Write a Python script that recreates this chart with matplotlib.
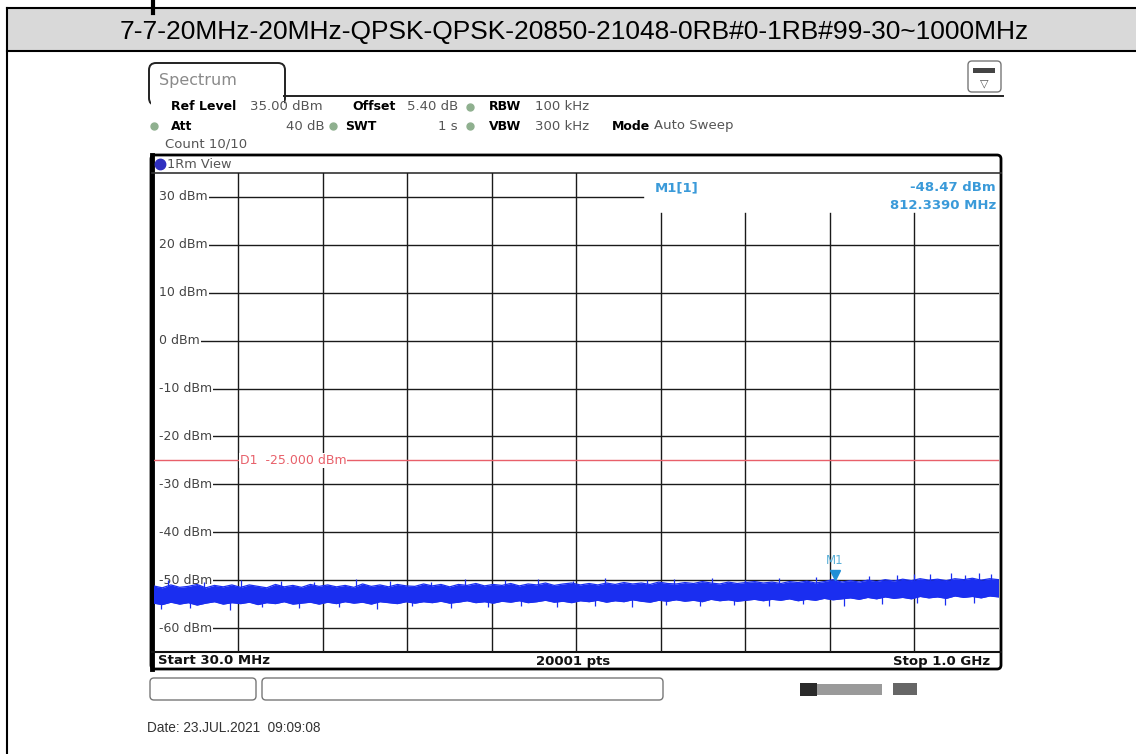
import numpy as np
import matplotlib.pyplot as plt
from matplotlib.patches import FancyBboxPatch, Rectangle

# chart data
title = "7-7-20MHz-20MHz-QPSK-QPSK-20850-21048-0RB#0-1RB#99-30~1000MHz"
f_start, f_stop = 30.0, 1000.0          # MHz
ref_level, y_bottom = 35.0, -65.0       # dBm
level_ticks = [30, 20, 10, 0, -10, -20, -30, -40, -50, -60]
limit_d1 = -25.0
marker_freq, marker_level = 812.339, -48.47

# noise floor: core band of the trace, every 10 MHz
trace_freq = np.arange(30, 1001, 10)
trace_top = [
    -51.2, -51.6, -51.0, -51.5, -51.3, -50.9, -51.6, -51.1, -51.4, -51.0,
    -51.5, -51.0, -51.3, -51.6, -50.9, -51.4, -51.1, -51.5, -50.9, -51.3,
    -51.0, -51.4, -51.1, -51.5, -50.8, -51.3, -51.0, -51.4, -50.9, -51.2,
    -51.3, -50.8, -51.2, -50.9, -51.4, -50.9, -51.1, -50.7, -51.2, -50.9,
    -51.1, -50.7, -51.2, -50.8, -51.0, -50.6, -51.1, -50.8, -50.6, -51.0,
    -50.7, -51.0, -50.6, -50.9, -50.5, -50.8, -50.6, -50.9, -50.4, -50.7,
    -50.8, -50.5, -50.7, -50.3, -50.6, -50.8, -50.4, -50.7, -50.5, -50.3,
    -50.6, -50.4, -50.7, -50.3, -50.5, -50.2, -50.6, -50.3, -49.9, -50.4,
    -50.1, -50.4, -50.0, -50.3, -49.9, -50.2, -49.8, -50.1, -49.7, -50.0,
    -49.8, -50.1, -49.7, -49.9, -49.6, -50.0, -49.7, -49.9]
trace_bottom = [
    -54.8, -55.1, -54.6, -55.0, -54.7, -55.2, -54.8, -54.5, -55.0, -54.7,
    -54.9, -54.6, -55.1, -54.7, -54.9, -54.5, -55.0, -54.8, -54.6, -55.0,
    -54.6, -54.9, -54.5, -54.8, -54.6, -55.0, -54.5, -54.7, -54.9, -54.5,
    -54.8, -54.5, -54.7, -54.4, -54.8, -54.6, -54.3, -54.7, -54.5, -54.8,
    -54.4, -54.6, -54.3, -54.7, -54.5, -54.2, -54.6, -54.4, -54.7, -54.3,
    -54.5, -54.2, -54.6, -54.3, -54.5, -54.1, -54.4, -54.6, -54.2, -54.4,
    -54.1, -54.4, -54.2, -54.5, -54.0, -54.3, -54.1, -54.4, -54.2, -54.0,
    -54.3, -54.0, -54.2, -53.9, -54.3, -54.0, -54.2, -53.8, -54.1, -53.9,
    -53.7, -54.0, -53.6, -53.9, -53.5, -53.8, -53.6, -53.9, -53.4, -53.7,
    -53.5, -53.8, -53.3, -53.6, -53.4, -53.7, -53.3, -53.5]

# single noise spikes sticking out of the band
spike_up_freq = [47, 88, 131, 176, 214, 262, 301, 349, 388, 433, 471, 512, 548, 596,
                 628, 671, 709, 748, 790, 812, 851, 884, 903, 921, 946, 962, 978, 991]
spike_up_level = [-50.0, -50.3, -49.9, -50.2, -50.4, -49.8, -50.1, -50.3, -49.7, -50.0,
                  -49.8, -50.2, -49.6, -49.9, -49.7, -49.5, -49.9, -49.6, -49.4, -48.5,
                  -49.2, -49.0, -48.7, -48.8, -48.6, -48.9, -48.5, -48.8]
spike_dn_freq = [39, 72, 118, 155, 197, 243, 286, 327, 371, 414, 452, 493,
                 537, 579, 618, 657, 696, 737, 776, 823, 866, 907, 939, 972]
spike_dn_level = [-56.0, -55.8, -56.2, -55.7, -55.9, -55.6, -56.0, -55.5, -55.8, -55.6,
                  -55.4, -55.7, -55.3, -55.6, -55.2, -55.5, -55.1, -55.4, -55.0, -55.3,
                  -54.9, -54.8, -55.1, -54.7]

W, H = 1136, 754
fig = plt.figure(figsize=(W / 100, H / 100), dpi=100)

# pixel-space background axes for the table and instrument frame
bg = fig.add_axes([0, 0, 1, 1])
bg.set_xlim(0, W)
bg.set_ylim(H, 0)
bg.axis('off')

# table cell with grey header
bg.add_patch(Rectangle((7, 8), W, 43, facecolor='#d9d9d9', edgecolor='none'))
bg.plot([7, W], [8, 8], color='black', lw=1.5)
bg.plot([7, W], [51, 51], color='black', lw=1.5)
bg.plot([7, 7], [8, H], color='black', lw=1.5)
bg.plot([153, 153], [0, 13], color='black', lw=3)
bg.text(574, 32, title, ha='center', va='center', fontsize=19,
        family='Liberation Sans', color='black')

# "Spectrum" tab and top line
bg.add_patch(FancyBboxPatch((149, 63), 136, 42, boxstyle='round,pad=0,rounding_size=7',
                            facecolor='white', edgecolor='#222', lw=1.4))
bg.add_patch(Rectangle((151, 97), 133, 10, facecolor='white', edgecolor='none'))
bg.plot([284, 1003], [95.5, 95.5], color='#222', lw=1.4)
bg.text(159, 80, "Spectrum", fontsize=11.5, color='#8a8a8a', va='center')

# settings icon
bg.add_patch(FancyBboxPatch((968, 61), 33, 31, boxstyle='round,pad=0,rounding_size=4',
                            facecolor='white', edgecolor='#777', lw=1))
bg.add_patch(Rectangle((973, 68), 22, 5, facecolor='#444', edgecolor='none'))
bg.text(984, 83, "\u25bd", fontsize=8, ha='center', va='center', color='#555')

# header parameters
bold = dict(fontsize=9, va='center', fontweight='bold', color='black')
val = dict(fontsize=9.5, va='center', color='#555')
dot = dict(marker='o', ms=5, color='#8fb08f', ls='none')
r1, r2, r3 = 107, 126, 144
bg.text(171, r1, "Ref Level", **bold)
bg.text(250, r1, "35.00 dBm", **val)
bg.text(352, r1, "Offset", **bold)
bg.text(407, r1, "5.40 dB", **val)
bg.plot([470], [r1], **dot)
bg.text(489, r1, "RBW", **bold)
bg.text(535, r1, "100 kHz", **val)
bg.plot([154], [r2], **dot)
bg.text(171, r2, "Att", **bold)
bg.text(325, r2, "40 dB", ha='right', fontsize=9.5, va='center', color='#555')
bg.plot([333], [r2], **dot)
bg.text(345, r2, "SWT", **bold)
bg.text(458, r2, "1 s", ha='right', fontsize=9.5, va='center', color='#555')
bg.plot([470], [r2], **dot)
bg.text(489, r2, "VBW", **bold)
bg.text(535, r2, "300 kHz", **val)
bg.text(612, r2, "Mode", **bold)
bg.text(654, r2, "Auto Sweep", **val)
bg.text(165, r3, "Count 10/10", **val)

# plot window frame
bg.add_patch(FancyBboxPatch((151, 155), 850, 514, boxstyle='round,pad=0,rounding_size=4',
                            facecolor='none', edgecolor='black', lw=2))
bg.plot([151.5, 151.5], [155, 669], color='black', lw=3.5)
bg.plot([152, 1001], [173, 173], color='#333', lw=1.2)
bg.plot([152, 1001], [652, 652], color='#111', lw=1.5)
bg.plot([160], [164], marker='o', ms=7.5, color='#3030c0', ls='none')
bg.text(167, 164, "1Rm View", fontsize=9.3, va='center', color='#555')

bottom_txt = dict(fontsize=9.5, va='center', fontweight='bold', color='#111')
bg.text(158, 661, "Start 30.0 MHz", **bottom_txt)
bg.text(573, 661, "20001 pts", ha='center', **bottom_txt)
bg.text(990, 661, "Stop 1.0 GHz", ha='right', **bottom_txt)

# status boxes under the window
for x0, x1 in [(150, 256), (262, 663)]:
    bg.add_patch(FancyBboxPatch((x0, 678), x1 - x0, 22, boxstyle='round,pad=0,rounding_size=4',
                                facecolor='white', edgecolor='#777', lw=1))
bg.add_patch(Rectangle((800, 683), 17, 13, facecolor='#2a2a2a', edgecolor='none'))
bg.add_patch(Rectangle((817, 684), 65, 11, facecolor='#9a9a9a', edgecolor='none'))
bg.add_patch(Rectangle((893, 683), 24, 12, facecolor='#666', edgecolor='none'))
bg.text(147, 728, "Date: 23.JUL.2021  09:09:08", fontsize=9.8, va='center',
        family='Liberation Sans', color='#333')

# measurement diagram
x0_px, x1_px, y0_px, y1_px = 153.5, 998.5, 173, 652
ax = fig.add_axes([x0_px / W, 1 - y1_px / H, (x1_px - x0_px) / W, (y1_px - y0_px) / H])
ax.set_xlim(f_start, f_stop)
ax.set_ylim(y_bottom, ref_level)
ax.axis('off')
ax.patch.set_alpha(0)

vgrid = np.linspace(f_start, f_stop, 11)[1:-1]
info_top = 26.6   # marker info field hides the upper grid on the right
info_left = 592
label_x = f_start + 6.5
for f in vgrid:
    top = info_top if f > info_left else ref_level
    ax.plot([f, f], [y_bottom, top], color='#1a1a1a', lw=1, zorder=1)
for lv in level_ticks:
    right = info_left if lv > info_top else f_stop
    ax.plot([label_x, right], [lv, lv], color='#1a1a1a', lw=1, zorder=1)
    ax.text(label_x, lv, f"{lv} dBm", fontsize=9, va='center', color='#444',
            zorder=2, bbox=dict(facecolor='white', edgecolor='none', pad=0.6))

d1_color = '#e8606a'
ax.axhline(limit_d1, color=d1_color, lw=1, zorder=2)
ax.text(f_start + 99, limit_d1, "D1  -25.000 dBm", fontsize=9, va='center', color=d1_color,
        zorder=2, bbox=dict(facecolor='white', edgecolor='none', pad=0.5))

blue = '#1a2ef0'
ax.fill_between(trace_freq, trace_bottom, trace_top, color=blue, lw=0, zorder=3)
ax.plot(trace_freq, trace_top, color=blue, lw=0.9, zorder=3)
ax.plot(trace_freq, trace_bottom, color=blue, lw=0.9, zorder=3)
ax.vlines(spike_up_freq, -52.5, spike_up_level, color=blue, lw=0.9, zorder=3)
ax.vlines(spike_dn_freq, spike_dn_level, -52.5, color=blue, lw=0.9, zorder=3)

mk_color = '#3a9ad9'
ax.plot([marker_freq], [marker_level - 0.4], marker='v', ms=7, color='#1e8fd6', zorder=4)
ax.text(marker_freq, marker_level + 1.2, "M1", ha='center', va='bottom', fontsize=8.5,
        color='#5ab0d8', zorder=4)
ax.text(605, 31.9, "M1[1]", fontsize=9.5, va='center', color=mk_color, fontweight='bold')
ax.text(f_stop - 3, 31.9, f"{marker_level:.2f} dBm", ha='right', va='center',
        fontsize=9.5, color=mk_color, fontweight='bold')
ax.text(f_stop - 3, 28.3, f"{marker_freq:.4f} MHz", ha='right', va='center',
        fontsize=9.5, color=mk_color, fontweight='bold')

fig.savefig('out.png', dpi=100)
